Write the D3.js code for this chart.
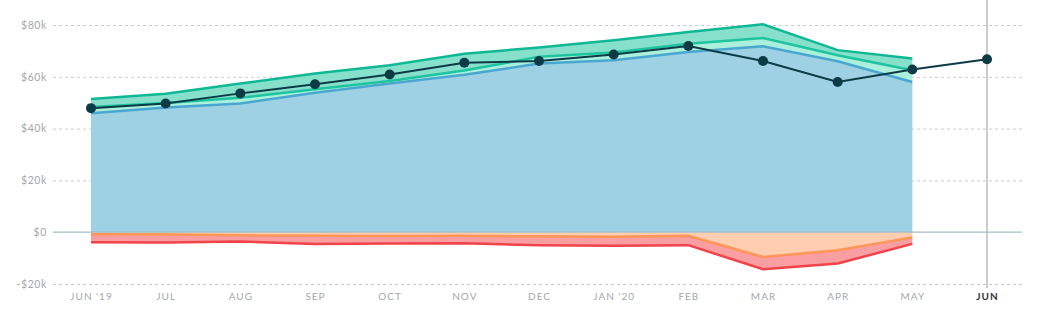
<!DOCTYPE html>
<html>
<head>
<meta charset="utf-8">
<script src="https://cdn.jsdelivr.net/npm/d3@7"></script>
<style>
  body { margin: 0; background: #fff; }
  text { font-family: Lato, "Open Sans", sans-serif; }
</style>
</head>
<body>
<svg id="chart"></svg>
<script>
// months shown on the x axis
var months = ["JUN '19", 'JUL', 'AUG', 'SEP', 'OCT', 'NOV', 'DEC', "JAN '20", 'FEB', 'MAR', 'APR', 'MAY', 'JUN'];

// stacked components (k$), JUN '19 .. MAY
var blue       = [45.9, 48.1, 49.7, 53.8, 57.4, 60.8, 65.1, 66.4, 69.6, 71.8, 66.0, 58.0];
var lightgreen = [2.4, 1.8, 2.2, 1.4, 1.0, 1.6, 2.6, 3.0, 3.2, 3.2, 2.3, 4.5];
var green      = [3.1, 3.6, 5.5, 6.1, 6.1, 6.5, 3.6, 4.7, 4.5, 5.3, 2.0, 4.6];
var orange     = [-0.8, -0.9, -1.2, -1.4, -1.5, -1.4, -1.6, -1.8, -1.4, -9.6, -7.0, -2.0];
var red        = [-3.1, -3.1, -2.4, -3.2, -2.9, -2.9, -3.4, -3.4, -3.6, -4.7, -5.1, -2.5];

// net line, JUN '19 .. JUN
var net = [47.9, 49.7, 53.6, 57.1, 60.9, 65.4, 66.1, 68.6, 71.9, 66.1, 58.0, 62.8, 66.8];

var yTicks = [-20000, 0, 20000, 40000, 60000, 80000];

var W = 1037, H = 325;
var svg = d3.select('#chart').attr('width', W).attr('height', H);

var x = d3.scalePoint().domain(months).range([91, 987]);
var y = d3.scaleLinear().domain([-20000, 80000]).range([284, 25]);

var styles = {
  blue:       { fill: '#9dd1e3', stroke: '#4aa7d0' },
  lightgreen: { fill: '#aaf0dc', stroke: '#1ec49f' },
  green:      { fill: '#86e0cb', stroke: '#0fb894' },
  orange:     { fill: '#ffcdb0', stroke: '#ff9557' },
  red:        { fill: '#f99fa1', stroke: '#f2434a' }
};
var keys = ['blue', 'lightgreen', 'green', 'orange', 'red'];
var src = { blue: blue, lightgreen: lightgreen, green: green, orange: orange, red: red };

var rows = blue.map(function (d, i) {
  var r = { m: months[i] };
  keys.forEach(function (k) { r[k] = src[k][i] * 1000; });
  return r;
});

var series = d3.stack().keys(keys).offset(d3.stackOffsetDiverging)(rows);

// grid
var yAxis = d3.axisLeft(y)
  .tickValues(yTicks)
  .tickSize(-969)
  .tickPadding(6)
  .tickFormat(function (v) {
    if (v === 0) return '$0';
    return (v < 0 ? '-$' : '$') + Math.abs(v) / 1000 + 'k';
  });

var gy = svg.append('g')
  .attr('class', 'axis y')
  .attr('transform', 'translate(53,0)')
  .call(yAxis);
gy.select('.domain').remove();
gy.selectAll('line')
  .attr('stroke', '#c8cacc')
  .attr('stroke-dasharray', '3,3');
gy.selectAll('text')
  .attr('fill', '#a3a8ad')
  .attr('font-size', '10.5px')
  .style('letter-spacing', '0.6px');
gy.selectAll('.tick').filter(function (d) { return d === 0; }).select('line').attr('stroke', 'none');

// current month marker
svg.append('line')
  .attr('x1', x('JUN')).attr('x2', x('JUN'))
  .attr('y1', 0).attr('y2', 288)
  .attr('stroke', '#a6abb0')
  .attr('stroke-width', 1.2);

// areas
var area = d3.area()
  .x(function (d) { return x(d.data.m); })
  .y0(function (d) { return y(d[0]); })
  .y1(function (d) { return y(d[1]); });

svg.selectAll('.layer')
  .data(series)
  .enter().append('path')
  .attr('class', 'layer')
  .attr('d', area)
  .attr('fill', function (s) { return styles[s.key].fill; });

svg.selectAll('.edge')
  .data(series)
  .enter().append('path')
  .attr('class', 'edge')
  .attr('fill', 'none')
  .attr('stroke-width', 2.5)
  .attr('stroke', function (s) { return styles[s.key].stroke; })
  .attr('d', function (s) {
    var neg = s.key === 'orange' || s.key === 'red';
    return d3.line()
      .x(function (d) { return x(d.data.m); })
      .y(function (d) { return y(neg ? d[0] : d[1]); })(s);
  });

// zero line
svg.append('line')
  .attr('x1', 53).attr('x2', 1022)
  .attr('y1', y(0)).attr('y2', y(0))
  .attr('stroke', '#a4bcc3')
  .attr('stroke-width', 1.3);

// net line and dots
var netData = net.map(function (v, i) { return { m: months[i], v: v * 1000 }; });

svg.append('path')
  .datum(netData)
  .attr('fill', 'none')
  .attr('stroke', '#0d3b45')
  .attr('stroke-width', 2)
  .attr('d', d3.line().x(function (d) { return x(d.m); }).y(function (d) { return y(d.v); }));

svg.selectAll('.dot')
  .data(netData)
  .enter().append('circle')
  .attr('class', 'dot')
  .attr('cx', function (d) { return x(d.m); })
  .attr('cy', function (d) { return y(d.v); })
  .attr('r', 5)
  .attr('fill', '#0d3b45');

// x axis
var gx = svg.append('g')
  .attr('class', 'axis x')
  .attr('transform', 'translate(0,284)')
  .call(d3.axisBottom(x).tickSize(0).tickPadding(9));
gx.select('.domain').remove();
gx.selectAll('text')
  .attr('fill', '#a3a8ad')
  .attr('font-size', '10px')
  .style('letter-spacing', '1px');
gx.selectAll('.tick').filter(function (d) { return d === 'JUN'; }).select('text')
  .attr('fill', '#2e3a40')
  .attr('font-weight', 'bold');
</script>
</body>
</html>
